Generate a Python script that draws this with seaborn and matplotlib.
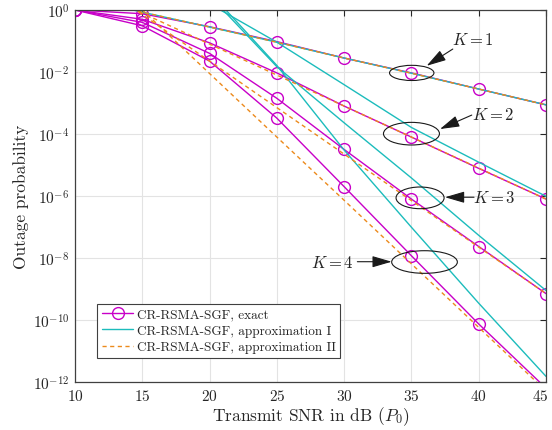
import numpy as np
import pandas as pd
import seaborn as sns
import matplotlib
matplotlib.use('Agg')
import matplotlib.pyplot as plt
from matplotlib.lines import Line2D
from matplotlib.patches import Ellipse
from matplotlib.transforms import ScaledTranslation
from matplotlib.ticker import NullLocator, FixedLocator, FuncFormatter

sns.set_theme(style="whitegrid")
plt.rcParams['font.family'] = ['cmr10', 'DejaVu Serif']
plt.rcParams['mathtext.fontset'] = 'cm'
plt.rcParams['axes.formatter.use_mathtext'] = True

# transmit SNR (dB)
snr_db = [10, 15, 20, 25, 30, 35, 40, 45]
snr_db_a1 = [20, 25, 30, 35, 40, 45]   # approximation I, K >= 2 (above 1 before ~21 dB)

# log10 of outage probability
exact_k1 = [0, -0.12, -0.54, -1.02, -1.55, -2.03, -2.55, -3.06]
exact_k2 = [0, -0.30, -1.06, -2.03, -3.10, -4.10, -5.11, -6.10]
exact_k3 = [0, -0.40, -1.40, -2.85, -4.50, -6.10, -7.63, -9.15]
exact_k4 = [0, -0.51, -1.65, -3.49, -5.70, -7.93, -10.13, -12.2]

approx1_k1 = [0.43, -0.07, -0.55, -1.04, -1.55, -2.04, -2.55, -3.06]
approx1_k2 = [0.20, -1.04, -2.41, -3.79, -4.91, -6.01]
approx1_k3 = [0.46, -1.83, -3.64, -5.42, -7.27, -9.05]
approx1_k4 = [0.57, -1.79, -4.52, -7.01, -9.46, -11.82]

approx2_k1 = [0.43, -0.07, -0.55, -1.04, -1.55, -2.04, -2.55, -3.06]
approx2_k2 = [0.90, -0.10, -1.10, -2.10, -3.10, -4.10, -5.10, -6.10]
approx2_k3 = [1.35, -0.15, -1.65, -3.15, -4.65, -6.15, -7.65, -9.15]
approx2_k4 = [2.05, 0.00, -2.05, -4.10, -6.14, -8.19, -10.24, -12.29]

y_tick_exp = [-12, -10, -8, -6, -4, -2, 0]

legend_labels = ['CR-RSMA-SGF, exact',
                 'CR-RSMA-SGF, approximation I',
                 'CR-RSMA-SGF, approximation II']

# annotations: (label, text pos, align, arrow tail, arrow tip, ellipse centre, width dB, height decades)
k_notes = [
    (r'$K=1$', (38.0, -0.94), 'left', (38.07, -1.26), (36.13, -1.80), (35.02, -2.03), 3.3, 0.49),
    (r'$K=2$', (39.5, -3.36), 'left', (39.48, -3.39), (37.12, -3.84), (35.0, -3.99), 4.16, 0.73),
    (r'$K=3$', (39.6, -6.04), 'left', (39.65, -6.04), (37.49, -6.04), (35.64, -6.06), 3.57, 0.70),
    (r'$K=4$', (30.7, -8.12), 'right', (30.98, -8.12), (33.53, -8.12), (35.97, -8.13), 4.88, 0.73),
]

c_exact = '#c800c8'
c_a1 = '#1cbcbc'
c_a2 = '#ec8a1c'

fig = plt.figure(figsize=(5.52, 4.31), dpi=100)
ax = fig.add_axes([0.1359, 0.1114, 0.8533, 0.8631])

for vals in [exact_k1, exact_k2, exact_k3, exact_k4]:
    sns.lineplot(x=snr_db, y=10.0 ** np.array(vals), ax=ax, color=c_exact, lw=1.0,
                 marker='o', markersize=8.5, markerfacecolor='none',
                 markeredgecolor=c_exact, markeredgewidth=1.0,
                 estimator=None, sort=False, legend=False)

sns.lineplot(x=snr_db, y=10.0 ** np.array(approx1_k1), ax=ax, color=c_a1, lw=1.0,
             estimator=None, sort=False, legend=False)
for vals in [approx1_k2, approx1_k3, approx1_k4]:
    sns.lineplot(x=snr_db_a1, y=10.0 ** np.array(vals), ax=ax, color=c_a1, lw=1.0,
                 estimator=None, sort=False, legend=False)

for vals in [approx2_k1, approx2_k2, approx2_k3, approx2_k4]:
    sns.lineplot(x=snr_db, y=10.0 ** np.array(vals), ax=ax, color=c_a2, lw=1.0,
                 linestyle=(0, (3, 2.5)), estimator=None, sort=False, legend=False)

ax.set_yscale('log')
ax.set_xlim(10, 45)
ax.set_ylim(1e-12, 1)
ax.set_xticks(range(10, 46, 5))
ax.yaxis.set_major_locator(FixedLocator([10.0 ** e for e in y_tick_exp]))
ax.yaxis.set_minor_locator(NullLocator())
ax.yaxis.set_major_formatter(FuncFormatter(lambda v, p: r'$10^{%d}$' % round(np.log10(v))))
ax.xaxis.set_major_formatter(FuncFormatter(lambda v, p: r'$%d$' % v))

ax.grid(True, which='major', color='#e3e3e3', lw=0.8)
for sp in ax.spines.values():
    sp.set_color('#404040')
    sp.set_linewidth(0.9)
ax.tick_params(direction='in', length=4, width=0.8, color='#262626',
               top=True, right=True, labelsize=11, labelcolor='#262626', pad=4)

# keep the last x tick label inside the figure
last = ax.xaxis.get_major_ticks()[-1].label1
last.set_transform(last.get_transform() + ScaledTranslation(-0.06, 0, fig.dpi_scale_trans))

ax.set_xlabel(r'Transmit SNR in dB ($P_0$)', fontsize=12.5, color='#262626', labelpad=1)
ax.set_ylabel('Outage probability', fontsize=12.5, color='#262626', labelpad=3)

def to_axes(x_db, logp):
    return ((x_db - 10) / 35, (logp + 12) / 12)

for label, tpos, ha, tail, tip, centre, w, h in k_notes:
    ax.add_patch(Ellipse(to_axes(*centre), w / 35, h / 12, transform=ax.transAxes,
                         fill=False, edgecolor='k', lw=0.8, zorder=5))
    ax.annotate('', xy=(tip[0], 10 ** tip[1]), xytext=(tail[0], 10 ** tail[1]),
                arrowprops=dict(arrowstyle='-|>,head_length=1.2,head_width=0.35',
                                color='k', lw=0.8, mutation_scale=10,
                                shrinkA=0, shrinkB=0), zorder=6)
    ax.text(tpos[0], 10 ** tpos[1], label, fontsize=12, ha=ha, va='center', zorder=6)

handles = [
    Line2D([], [], color=c_exact, lw=1.0, marker='o', markersize=8.5,
           markerfacecolor='none', markeredgecolor=c_exact, markeredgewidth=1.0),
    Line2D([], [], color=c_a1, lw=1.0),
    Line2D([], [], color=c_a2, lw=1.0, linestyle=(0, (3, 2.5))),
]
leg = ax.legend(handles, legend_labels, loc='lower left', bbox_to_anchor=(0.047, 0.065),
                borderaxespad=0, frameon=True, fancybox=False, framealpha=1,
                edgecolor='#404040', fontsize=9.5, handlelength=2.4,
                borderpad=0.35, labelspacing=0.3, handletextpad=0.25)
leg.get_frame().set_linewidth(0.8)

fig.savefig('out.png', dpi=100)
